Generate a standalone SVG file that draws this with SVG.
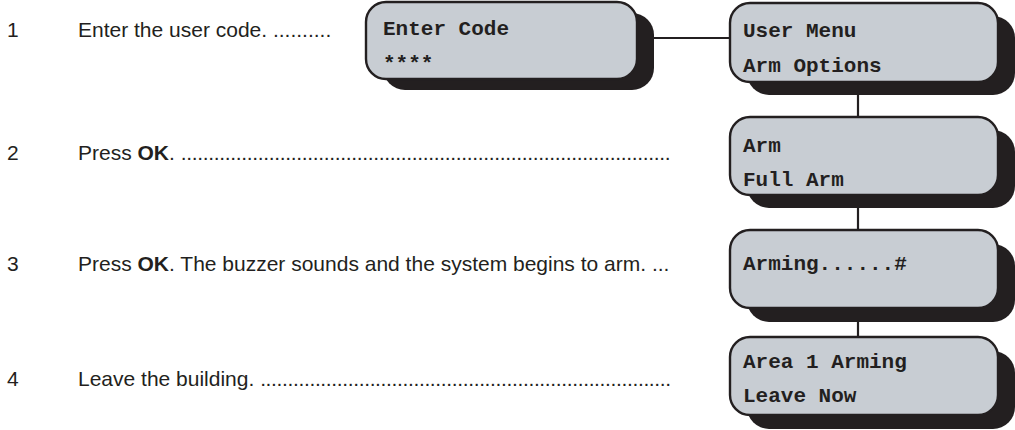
<svg xmlns="http://www.w3.org/2000/svg" width="1015" height="430" viewBox="0 0 1015 430">
  <style>
    .shadow { fill: #231f20; }
    .front { fill: #c8cdd3; stroke: #231f20; stroke-width: 2.4; }
    .lcd { font-family: "Liberation Mono", "Courier New", monospace; font-weight: bold; font-size: 21px; fill: #231f20; }
    .step { font-family: "Liberation Sans", Arial, sans-serif; font-size: 21px; fill: #231f20; }
    .conn { stroke: #231f20; stroke-width: 2.2; fill: none; }
  </style>
  <rect width="1015" height="430" fill="#ffffff"/>

  <g id="steps">
    <text class="step" x="7" y="37">1</text>
    <text class="step" x="78" y="37">Enter the user code. ..........</text>
    <text class="step" x="7" y="160">2</text>
    <text class="step" x="78" y="160">Press <tspan font-weight="bold">OK</tspan>. <tspan textLength="490" lengthAdjust="spacing">.........................................................................................</tspan></text>
    <text class="step" x="7" y="271">3</text>
    <text class="step" x="78" y="271">Press <tspan font-weight="bold">OK</tspan>. The buzzer sounds and the system begins to arm. ...</text>
    <text class="step" x="7" y="386">4</text>
    <text class="step" x="78" y="386">Leave the building. <tspan textLength="411" lengthAdjust="spacing">...........................................................................</tspan></text>
  </g>

  <g id="connectors">
    <line class="conn" x1="640" y1="38" x2="731" y2="38"/>
    <line class="conn" x1="858" y1="80" x2="858" y2="118"/>
    <line class="conn" x1="858" y1="193" x2="858" y2="231"/>
    <line class="conn" x1="858" y1="306" x2="858" y2="338"/>
  </g>

  <g id="node-enter-code">
    <rect class="shadow" x="383" y="13" width="271" height="77" rx="22"/>
    <rect class="front" x="366" y="2" width="271" height="77" rx="20"/>
    <text class="lcd" x="383" y="35">Enter Code</text>
    <text class="lcd" x="383" y="70">****</text>
  </g>

  <g id="node-user-menu">
    <rect class="shadow" x="747" y="16" width="268" height="79" rx="22"/>
    <rect class="front" x="730" y="3" width="268" height="79" rx="20"/>
    <text class="lcd" x="743" y="37">User Menu</text>
    <text class="lcd" x="743" y="72">Arm Options</text>
  </g>

  <g id="node-arm">
    <rect class="shadow" x="747" y="130" width="268" height="78" rx="22"/>
    <rect class="front" x="730" y="117" width="268" height="78" rx="20"/>
    <text class="lcd" x="743" y="152">Arm</text>
    <text class="lcd" x="743" y="186">Full Arm</text>
  </g>

  <g id="node-arming">
    <rect class="shadow" x="747" y="244" width="268" height="78" rx="22"/>
    <rect class="front" x="730" y="230" width="268" height="78" rx="20"/>
    <text class="lcd" x="743" y="270">Arming......#</text>
  </g>

  <g id="node-area-arming">
    <rect class="shadow" x="747" y="351" width="268" height="78" rx="22"/>
    <rect class="front" x="730" y="337" width="268" height="78" rx="20"/>
    <text class="lcd" x="743" y="368">Area 1 Arming</text>
    <text class="lcd" x="743" y="402">Leave Now</text>
  </g>
</svg>
